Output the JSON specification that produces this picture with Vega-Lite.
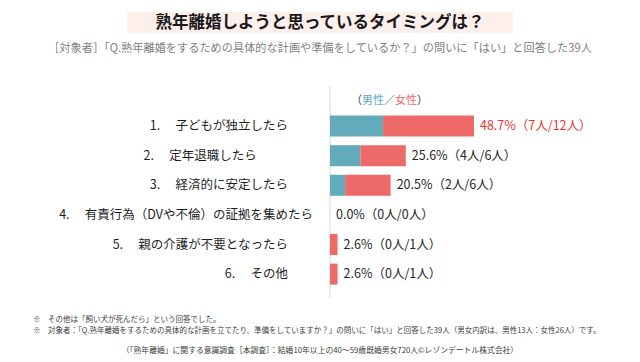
{
  "$schema": "https://vega.github.io/schema/vega-lite/v6.json",
  "background": "#ffffff",
  "padding": {"left": 33, "top": 12, "right": 0, "bottom": 0},
  "config": {"font": "Noto Sans CJK JP", "view": {"stroke": null}},
  "datasets": {
    "answers": [
      {"rank": 1, "item": "1.\u3000 子どもが独立したら\u3000\u3000\u2060", "男性": 7, "女性": 12, "label": "48.7%（7人/12人）"},
      {"rank": 2, "item": "2.\u3000 定年退職したら\u3000\u3000\u3000\u3000\u2002\u2060", "男性": 4, "女性": 6, "label": "25.6%（4人/6人）"},
      {"rank": 3, "item": "3.\u3000 経済的に安定したら\u3000\u3000\u2060", "男性": 2, "女性": 6, "label": "20.5%（2人/6人）"},
      {"rank": 4, "item": "4.\u3000 有責行為（DVや不倫）の証拠を集めたら", "男性": 0, "女性": 0, "label": "0.0%（0人/0人）"},
      {"rank": 5, "item": "5.\u3000 親の介護が不要となったら\u3000\u3000\u2060", "男性": 0, "女性": 1, "label": "2.6%（0人/1人）"},
      {"rank": 6, "item": "6.\u3000 その他\u3000\u3000\u2060", "男性": 0, "女性": 1, "label": "2.6%（0人/1人）"}
    ],
    "key": [
      {"seg": "\u2060（\u3000\u3000／\u3000\u3000）\u2060", "tone": "frame"},
      {"seg": "\u2060\u3000男性\u3000\u3000\u3000\u3000\u2060", "tone": "男性"},
      {"seg": "\u2060\u3000\u3000\u3000\u3000女性\u3000\u2060", "tone": "女性"}
    ]
  },
  "spacing": 17,
  "center": true,
  "vconcat": [
    {
      "spacing": 10,
      "center": true,
      "vconcat": [
        {
          "width": 386,
          "height": 21,
          "view": {"fill": "#fcefec", "stroke": null},
          "data": {"values": [{"heading": "熟年離婚しようと思っているタイミングは？"}]},
          "mark": {"type": "text", "fontSize": 16.5, "fontWeight": "bold", "color": "#1a1a1a"},
          "encoding": {"text": {"field": "heading"}}
        },
        {
          "width": 574,
          "height": 212,
          "title": {
            "text": "［対象者］「Q.熟年離婚をするための具体的な計画や準備をしているか？」の問いに「はい」と回答した39人",
            "fontSize": 11.2,
            "fontWeight": "normal",
            "color": "#7f7f7f",
            "anchor": "middle",
            "frame": "group",
            "offset": 31
          },
          "data": {"name": "answers"},
          "encoding": {
            "y": {
              "field": "item",
              "type": "nominal",
              "sort": null,
              "scale": {
                "domain": [" ", "1.\u3000 子どもが独立したら\u3000\u3000\u2060", "2.\u3000 定年退職したら\u3000\u3000\u3000\u3000\u2002\u2060", "3.\u3000 経済的に安定したら\u3000\u3000\u2060", "4.\u3000 有責行為（DVや不倫）の証拠を集めたら", "5.\u3000 親の介護が不要となったら\u3000\u3000\u2060", "6.\u3000 その他\u3000\u3000\u2060"],
                "paddingInner": 0.29,
                "paddingOuter": 0.226,
                "align": 0
              },
              "axis": null
            }
          },
          "layer": [
            {
              "data": {"values": [{}]},
              "mark": {"type": "rule", "color": "#d9d9d9", "strokeWidth": 1},
              "encoding": {
                "y": null,
                "x": {"datum": 0, "type": "quantitative", "scale": {"domain": [-39.19, 36.55], "nice": false, "zero": false}, "axis": null}
              }
            },
            {
              "mark": {"type": "text", "align": "right", "baseline": "middle", "dx": -17, "fontSize": 12.5, "color": "#1f1f1f"},
              "encoding": {
                "x": {"datum": 0, "type": "quantitative"},
                "text": {"field": "item"}
              }
            },
            {
              "transform": [{"fold": ["男性", "女性"], "as": ["gender", "count"]}],
              "mark": {"type": "bar"},
              "encoding": {
                "x": {"field": "count", "type": "quantitative", "stack": "zero"},
                "color": {
                  "field": "gender",
                  "type": "nominal",
                  "scale": {"domain": ["男性", "女性", "frame"], "range": ["#63aabb", "#ee6a68", "#404040"]},
                  "legend": null
                },
                "order": {"field": "gender", "sort": "descending"}
              }
            },
            {
              "transform": [
                {"fold": ["男性", "女性"], "as": ["gender", "count"]},
                {"aggregate": [{"op": "sum", "field": "count", "as": "total"}], "groupby": ["item", "label", "rank"]}
              ],
              "mark": {"type": "text", "align": "left", "baseline": "middle", "dx": 6, "fontSize": 12.5},
              "encoding": {
                "x": {"field": "total", "type": "quantitative"},
                "text": {"field": "label"},
                "color": {"condition": {"test": "datum.rank === 1", "value": "#e5372f"}, "value": "#262626"}
              }
            },
            {
              "data": {"name": "key"},
              "mark": {"type": "text", "fontSize": 11, "baseline": "middle", "align": "center", "dy": 4},
              "encoding": {
                "y": {"datum": " ", "type": "nominal"},
                "x": {"datum": 7.85, "type": "quantitative"},
                "text": {"field": "seg"},
                "color": {"field": "tone", "type": "nominal", "legend": null}
              }
            }
          ]
        }
      ]
    },
    {
      "width": 574,
      "height": 22,
      "title": {
        "text": [
          "※\u3000その他は「飼い犬が死んだら」という回答でした。",
          "※\u3000対象者：「Q.熟年離婚をするための具体的な計画を立てたり、準備をしていますか？」の問いに「はい」と回答した39人（男女内訳は、男性13人：女性26人）です。"
        ],
        "anchor": "start",
        "frame": "group",
        "fontSize": 7.5,
        "fontWeight": "normal",
        "color": "#404040",
        "lineHeight": 10.5,
        "offset": 6
      },
      "data": {"values": [{"note": "（「熟年離婚」に関する意識調査［本調査］：結婚10年以上の40～59歳既婚男女720人©レゾンデートル株式会社）"}]},
      "mark": {"type": "text", "fontSize": 7.8, "color": "#404040"},
      "encoding": {"text": {"field": "note"}}
    }
  ]
}
